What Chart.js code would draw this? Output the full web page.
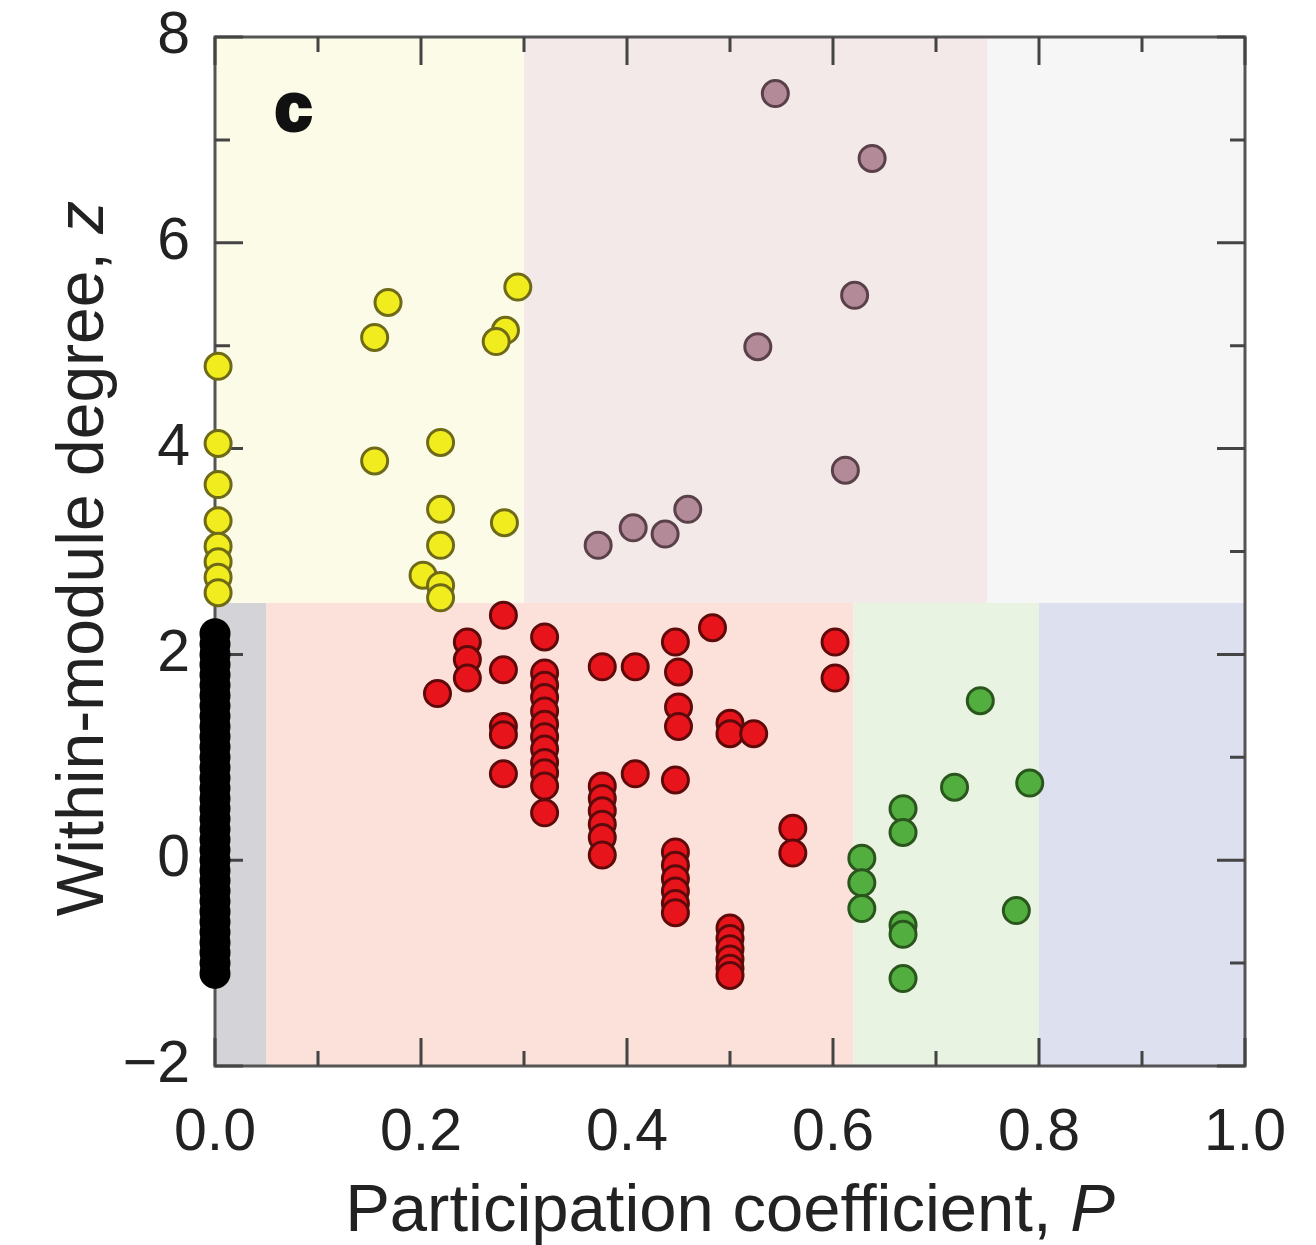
<!DOCTYPE html>
<html><head><meta charset="utf-8">
<script src="https://cdn.jsdelivr.net/npm/chart.js@4.4.1/dist/chart.umd.min.js"></script>
<style>html,body{margin:0;padding:0;background:#fff;} #wrap{width:1316px;height:1245px;}</style>
</head><body><div id="wrap"><canvas id="c" width="1316" height="1245"></canvas></div>
<script>
// ---- tick labels ----
const xTickLabels = ["0.0","","0.2","","0.4","","0.6","","0.8","","1.0"];
const yTickLabels = ["\u22122","","0","","2","","4","","6","","8"];
const xTitleMain = "Participation coefficient, ";
const xTitleItalic = "P";
const yTitleMain = "Within-module degree, ";
const yTitleItalic = "z";
const panelLabel = "c";

// ---- role regions (P and z thresholds) ----
const regionPStart = [0.00, 0.05, 0.62, 0.80, 0.00, 0.30, 0.75];
const regionPEnd   = [0.05, 0.62, 0.80, 1.00, 0.30, 0.75, 1.00];
const regionZStart = [-2, -2, -2, -2, 2.5, 2.5, 2.5];
const regionZEnd   = [2.5, 2.5, 2.5, 2.5, 8, 8, 8];
const regionColors = ["#d3d3d8", "#fbe1d9", "#e8f3e1", "#dde0ef", "#fcfbe8", "#f3e9e9", "#f6f6f6"];

// ---- series: ultra-peripheral (black) ----
const blackP = [0,0,0,0,0,0,0,0,0,0,0,0,0,0,0,0,0,0,0,0,0,0,0,0,0,0,0,0,0,0,0,0,0,0];
const blackZ = [2.2,2.1,2.0,1.9,1.8,1.7,1.6,1.5,1.4,1.3,1.2,1.1,1.0,0.9,0.8,0.7,0.6,0.5,0.4,0.3,0.2,0.1,0.0,-0.1,-0.2,-0.3,-0.4,-0.5,-0.6,-0.7,-0.8,-0.9,-1.0,-1.1];

// ---- provincial hubs (yellow) ----
const yellowP = [0.003,0.003,0.003,0.003,0.003,0.003,0.003,0.003,
                 0.168,0.155,0.294,0.282,0.273,0.155,0.219,0.219,0.281,0.219,0.202,0.219,0.219];
const yellowZ = [4.80,4.05,3.65,3.30,3.05,2.90,2.75,2.60,
                 5.42,5.08,5.57,5.15,5.04,3.88,4.06,3.41,3.28,3.06,2.77,2.67,2.55];

// ---- connector hubs (mauve) ----
const mauveP = [0.544,0.638,0.621,0.527,0.612,0.459,0.437,0.406,0.372];
const mauveZ = [7.45,6.82,5.49,4.99,3.79,3.41,3.17,3.23,3.06];

// ---- peripheral (red) ----
const redP = [0.216,0.245,0.245,0.245,0.280,0.280,0.280,0.280,0.280,
              0.320,0.320,0.320,0.320,0.320,0.320,0.320,0.320,0.320,0.320,0.320,0.320,
              0.376,0.408,0.447,0.450,0.483,0.602,0.602,0.450,0.450,0.500,0.500,0.523,0.408,0.447,
              0.376,0.376,0.376,0.376,0.376,0.376,
              0.447,0.447,0.447,0.447,0.447,0.447,
              0.500,0.500,0.500,0.500,0.500,0.500,
              0.561,0.561];
const redZ = [1.62,2.12,1.95,1.77,2.38,1.85,1.30,1.22,0.84,
              2.17,1.82,1.70,1.58,1.45,1.32,1.20,1.08,0.95,0.85,0.72,0.46,
              1.88,1.88,2.12,1.83,2.26,2.12,1.77,1.49,1.30,1.33,1.23,1.23,0.84,0.78,
              0.72,0.60,0.48,0.35,0.22,0.05,
              0.08,-0.05,-0.18,-0.30,-0.42,-0.51,
              -0.66,-0.76,-0.86,-0.96,-1.05,-1.12,
              0.31,0.07];

// ---- connectors (green) ----
const greenP = [0.743,0.718,0.791,0.668,0.668,0.628,0.628,0.628,0.668,0.668,0.668,0.778];
const greenZ = [1.55,0.71,0.75,0.50,0.27,0.02,-0.22,-0.47,-0.63,-0.72,-1.15,-0.49];

const FONT = '"Liberation Sans", Arial, Helvetica, sans-serif';

function pts(P, Z) { return P.map((p, i) => ({x: p, y: Z[i]})); }

const regionsPlugin = {
  id: 'regions',
  beforeDatasetsDraw(chart) {
    const ctx = chart.ctx, xs = chart.scales.x, ys = chart.scales.y, a = chart.chartArea;
    ctx.save();
    for (let i = 0; i < regionPStart.length; i++) {
      const x0 = xs.getPixelForValue(regionPStart[i]), x1 = xs.getPixelForValue(regionPEnd[i]);
      const y0 = ys.getPixelForValue(regionZEnd[i]), y1 = ys.getPixelForValue(regionZStart[i]);
      ctx.fillStyle = regionColors[i];
      ctx.fillRect(x0, y0, x1 - x0, y1 - y0);
    }
    // frame
    ctx.strokeStyle = '#555';
    ctx.lineWidth = 3;
    ctx.strokeRect(a.left, a.top, a.right - a.left, a.bottom - a.top);
    // inward ticks
    ctx.strokeStyle = '#444';
    ctx.lineWidth = 3;
    xs.ticks.forEach((t, i) => {
      const px = xs.getPixelForValue(t.value);
      const len = xTickLabels[i] ? 28 : 15;
      ctx.beginPath();
      ctx.moveTo(px, a.bottom); ctx.lineTo(px, a.bottom - len);
      ctx.moveTo(px, a.top); ctx.lineTo(px, a.top + len);
      ctx.stroke();
    });
    ys.ticks.forEach((t, i) => {
      const py = ys.getPixelForValue(t.value);
      const len = yTickLabels[i] ? 28 : 15;
      ctx.beginPath();
      ctx.moveTo(a.left, py); ctx.lineTo(a.left + len, py);
      ctx.moveTo(a.right, py); ctx.lineTo(a.right - len, py);
      ctx.stroke();
    });
    // panel label
    ctx.fillStyle = '#111';
    ctx.strokeStyle = '#111';
    ctx.lineWidth = 4;
    ctx.font = 'bold 66px ' + FONT;
    ctx.textBaseline = 'alphabetic';
    ctx.textAlign = 'left';
    ctx.fillText(panelLabel, a.left + 60, a.top + 93);
    ctx.strokeText(panelLabel, a.left + 60, a.top + 93);
    ctx.restore();
  },
  afterDraw(chart) {
    const ctx = chart.ctx, a = chart.chartArea;
    ctx.save();
    ctx.fillStyle = '#222';
    ctx.textBaseline = 'alphabetic';
    ctx.textAlign = 'left';
    // x title
    const xf = '67px ' + FONT, xfi = 'italic 67px ' + FONT;
    ctx.font = xf;
    const w1 = ctx.measureText(xTitleMain).width;
    ctx.font = xfi;
    const w2 = ctx.measureText(xTitleItalic).width;
    let sx = (a.left + a.right) / 2 - (w1 + w2) / 2;
    ctx.font = xf;
    ctx.fillText(xTitleMain, sx, 1231);
    ctx.font = xfi;
    ctx.fillText(xTitleItalic, sx + w1, 1231);
    // y title
    const yf = '66px ' + FONT, yfi = 'italic 66px ' + FONT;
    ctx.translate(103, (a.top + a.bottom) / 2 + 7);
    ctx.rotate(-Math.PI / 2);
    ctx.font = yf;
    const v1 = ctx.measureText(yTitleMain).width;
    ctx.font = yfi;
    const v2 = ctx.measureText(yTitleItalic).width;
    const sy = -(v1 + v2) / 2;
    ctx.font = yf;
    ctx.fillText(yTitleMain, sy, 0);
    ctx.font = yfi;
    ctx.fillText(yTitleItalic, sy + v1, 0);
    ctx.restore();
  }
};

function ds(P, Z, fill, border, r) {
  return {data: pts(P, Z), backgroundColor: fill, borderColor: border, borderWidth: 3,
          pointRadius: r, pointHoverRadius: r, clip: false};
}

new Chart(document.getElementById('c'), {
  type: 'scatter',
  data: {
    datasets: [
      ds(blackP, blackZ, '#000000', '#000000', 14),
      ds(yellowP, yellowZ, '#f1ec1e', '#6e6a18', 13),
      ds(mauveP, mauveZ, '#b38a97', '#5a4049', 13),
      ds(redP, redZ, '#e8141c', '#5e0a0a', 13),
      ds(greenP, greenZ, '#52ae3e', '#2a561e', 13)
    ]
  },
  options: {
    responsive: false,
    animation: false,
    devicePixelRatio: 1,
    layout: {padding: {top: 37, right: 71, left: 0, bottom: 0}},
    plugins: {legend: {display: false}, tooltip: {enabled: false}},
    scales: {
      x: {
        type: 'linear', min: 0, max: 1,
        ticks: {stepSize: 0.1, autoSkip: false, maxRotation: 0, padding: 32,
                callback: (v, i) => xTickLabels[i],
                font: {size: 59, family: FONT}, color: '#222'},
        grid: {display: false, drawTicks: false},
        border: {display: false},
        afterFit: s => { s.height = 179; s.paddingLeft = 0; s.paddingRight = 0; }
      },
      y: {
        type: 'linear', min: -2, max: 8,
        ticks: {stepSize: 1, autoSkip: false, padding: 25,
                callback: (v, i) => yTickLabels[i],
                font: {size: 59, family: FONT}, color: '#222'},
        grid: {display: false, drawTicks: false},
        border: {display: false},
        afterFit: s => { s.width = 215; s.paddingTop = 0; s.paddingBottom = 0; }
      }
    }
  },
  plugins: [regionsPlugin]
});
</script>
</body></html>
